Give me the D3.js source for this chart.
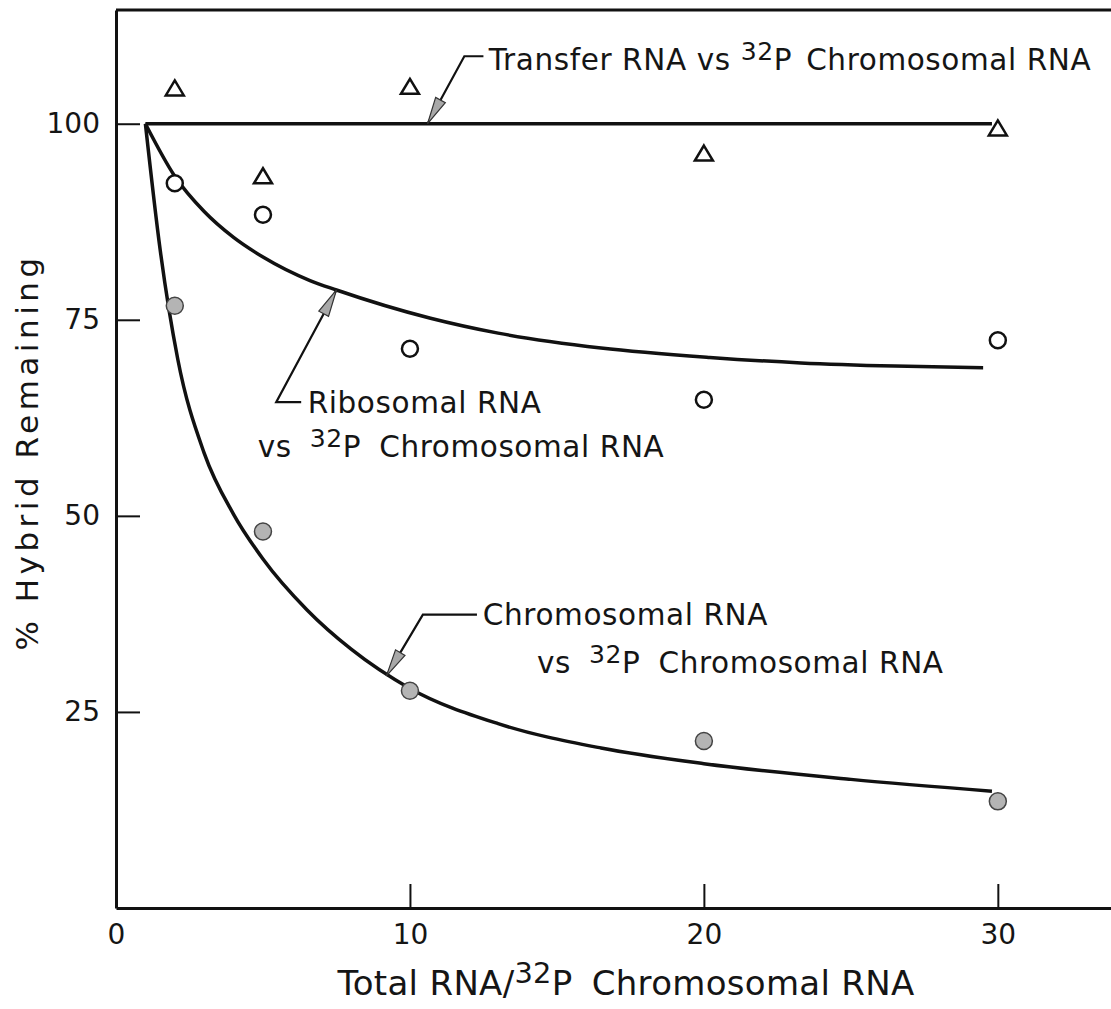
<!DOCTYPE html>
<html>
<head>
<meta charset="utf-8">
<script src="https://cdn.jsdelivr.net/npm/d3@7"></script>
<style>
  body { margin: 0; background: #fff; }
  text { font-family: "DejaVu Sans", sans-serif; fill: #151515; }
</style>
</head>
<body>
<div id="chart"></div>
<script>
// Measured points (x = total RNA / 32P chromosomal RNA, y = % hybrid remaining)
const doses = [2, 5, 10, 20, 30];
const transferPts = [104.5, 93.3, 104.7, 96.2, 99.4];
const ribosomalPts = [92.4, 88.4, 71.3, 64.8, 72.4];
const chromosomalPts = [76.8, 48.0, 27.7, 21.3, 13.6];

// Hand drawn fitted curves
const transferCurveX = [1, 29.8];
const transferCurveY = [100, 100];
const ribosomalCurveX = [1, 2, 3, 4, 5, 6.6, 7.5, 10.7, 13, 16.5, 20.2, 23.3, 26.5, 29.5];
const ribosomalCurveY = [100, 93.3, 88.8, 85.5, 83, 80, 78.8, 75.2, 73.3, 71.4, 70.2, 69.5, 69.1, 68.9];
const chromosomalCurveX = [1, 1.5, 2.1, 3, 4, 5, 6.5, 8, 10, 13, 16.5, 20, 25, 29.8];
const chromosomalCurveY = [100, 84, 70, 58, 50.2, 44.5, 38, 33, 28, 23.5, 20.4, 18.4, 16.4, 14.9];

// Axis ticks
const xTicks = [0, 10, 20, 30];
const yTicks = [25, 50, 75, 100];

const width = 1111, height = 1009;
const margin = {top: 10, left: 116, bottom: 101};

const svg = d3.select("#chart")
  .append("svg")
    .attr("width", width)
    .attr("height", height);

const x = d3.scaleLinear()
  .domain([0, 33.85])
  .range([margin.left, width]);
const y = d3.scaleLinear()
  .domain([0, 114.5])
  .range([height - margin.bottom, margin.top]);

// Axes, ticks pointing inward
const xAxis = svg.append("g")
  .attr("transform", "translate(0," + y(0) + ")")
  .call(d3.axisBottom(x).tickValues(xTicks).tickSize(-24).tickSizeOuter(0).tickPadding(16).tickFormat(d3.format("d")));
const yAxis = svg.append("g")
  .attr("transform", "translate(" + x(0) + ",0)")
  .call(d3.axisLeft(y).tickValues(yTicks).tickSize(-24).tickSizeOuter(0).tickPadding(16));

[xAxis, yAxis].forEach(a => {
  a.select(".domain").attr("stroke", "#111").attr("stroke-width", 3);
  a.selectAll(".tick line").attr("stroke", "#111").attr("stroke-width", 2);
  a.selectAll(".tick text").attr("font-size", 28).attr("fill", "#151515")
    .style("font-family", "'DejaVu Sans', sans-serif");
});

// top frame line
svg.append("line")
  .attr("x1", x(0)).attr("x2", width)
  .attr("y1", y(114.5)).attr("y2", y(114.5))
  .attr("stroke", "#111").attr("stroke-width", 3);

// text with raised "32" and optional wider gaps
function addText(g, px, py, parts, size, anchor) {
  const t = g.append("text")
    .attr("x", px).attr("y", py)
    .attr("font-size", size)
    .attr("text-anchor", anchor || "start");
  let raised = false, gap = 0;
  parts.forEach(p => {
    if (typeof p === "object" && p.gap !== undefined) { gap += p.gap; return; }
    const sup = typeof p === "object";
    const s = t.append("tspan").text(sup ? p.sup : p);
    if (gap) { s.attr("dx", gap); gap = 0; }
    if (sup) {
      s.attr("font-size", size * 0.85).attr("dy", -size * 0.34);
      raised = true;
    } else if (raised) {
      s.attr("dy", size * 0.34);
      raised = false;
    }
  });
  return t;
}

// Axis titles
addText(svg, 626, 995, ["Total RNA/", {sup: "32"}, "P", {gap: 8}, " Chromosomal RNA"], 34, "middle")
  .attr("letter-spacing", 0.3);
addText(svg, 0, 0, ["% Hybrid Remaining"], 31, "middle")
  .attr("transform", "translate(38," + 452 + ") rotate(-90)")
  .attr("letter-spacing", 4.5);

// Curves
const line = d3.line()
  .x(d => x(d[0]))
  .y(d => y(d[1]))
  .curve(d3.curveMonotoneX);

[[transferCurveX, transferCurveY], [ribosomalCurveX, ribosomalCurveY], [chromosomalCurveX, chromosomalCurveY]]
  .forEach(([cx, cy]) => {
    svg.append("path")
      .datum(cx.map((v, i) => [v, cy[i]]))
      .attr("d", line)
      .attr("fill", "none")
      .attr("stroke", "#111")
      .attr("stroke-width", 3.5);
  });

// Points
svg.selectAll("path.tri")
  .data(doses.map((d, i) => [d, transferPts[i]]))
  .enter()
  .append("path")
    .attr("class", "tri")
    .attr("d", d => {
      const px = x(d[0]), py = y(d[1]);
      return "M" + px + "," + (py - 8) + "L" + (px + 9) + "," + (py + 7) + "L" + (px - 9) + "," + (py + 7) + "Z";
    })
    .attr("fill", "#fff")
    .attr("stroke", "#111")
    .attr("stroke-width", 2.5)
    .attr("stroke-linejoin", "miter");

svg.selectAll("circle.ribo")
  .data(doses.map((d, i) => [d, ribosomalPts[i]]))
  .enter()
  .append("circle")
    .attr("class", "ribo")
    .attr("cx", d => x(d[0]))
    .attr("cy", d => y(d[1]))
    .attr("r", 8)
    .attr("fill", "#fff")
    .attr("stroke", "#111")
    .attr("stroke-width", 2.5);

svg.selectAll("circle.chromo")
  .data(doses.map((d, i) => [d, chromosomalPts[i]]))
  .enter()
  .append("circle")
    .attr("class", "chromo")
    .attr("cx", d => x(d[0]))
    .attr("cy", d => y(d[1]))
    .attr("r", 8.5)
    .attr("fill", "#b4b4b4")
    .attr("stroke", "#444")
    .attr("stroke-width", 1.5);

// Annotations: arrow tip, elbow, end of leader, text lines (data units)
const notes = [
  {tip: [10.6, 100], elbow: [11.85, 108.6], end: [12.5, 108.6],
   lines: [{at: [12.68, 106.9], parts: ["Transfer RNA vs", {gap: 10}, {sup: "32"}, "P", {gap: 14}, "Chromosomal RNA"]}]},
  {tip: [7.5, 78.8], elbow: [5.45, 64.5], end: [6.3, 64.5],
   lines: [{at: [6.52, 63.1], parts: ["Ribosomal RNA"]},
           {at: [4.82, 57.5], parts: ["vs", {gap: 18}, {sup: "32"}, "P", {gap: 18}, "Chromosomal RNA"]}]},
  {tip: [9.2, 29.6], elbow: [10.44, 37.4], end: [12.28, 37.4],
   lines: [{at: [12.48, 36.1], parts: ["Chromosomal RNA"]},
           {at: [14.32, 30.0], parts: ["vs", {gap: 18}, {sup: "32"}, "P", {gap: 18}, "Chromosomal RNA"]}]}
];

notes.forEach(n => {
  const tx = x(n.tip[0]), ty = y(n.tip[1]);
  const ex = x(n.elbow[0]), ey = y(n.elbow[1]);
  svg.append("path")
    .attr("d", "M" + x(n.end[0]) + "," + y(n.end[1]) + "L" + ex + "," + ey + "L" + tx + "," + ty)
    .attr("fill", "none")
    .attr("stroke", "#111")
    .attr("stroke-width", 2.2);

  // narrow stippled arrow head
  const len = Math.hypot(ex - tx, ey - ty);
  const ux = (ex - tx) / len, uy = (ey - ty) / len;
  const bx = tx + ux * 27, by = ty + uy * 27;
  svg.append("path")
    .attr("d", "M" + tx + "," + ty + "L" + (bx - uy * 5.5) + "," + (by + ux * 5.5) + "L" + (bx + uy * 5.5) + "," + (by - ux * 5.5) + "Z")
    .attr("fill", "#a8a8a8")
    .attr("stroke", "#333")
    .attr("stroke-width", 1.2);

  n.lines.forEach(l => addText(svg, x(l.at[0]), y(l.at[1]), l.parts, 29.5)
    .attr("letter-spacing", 0.6));
});
</script>
</body>
</html>
